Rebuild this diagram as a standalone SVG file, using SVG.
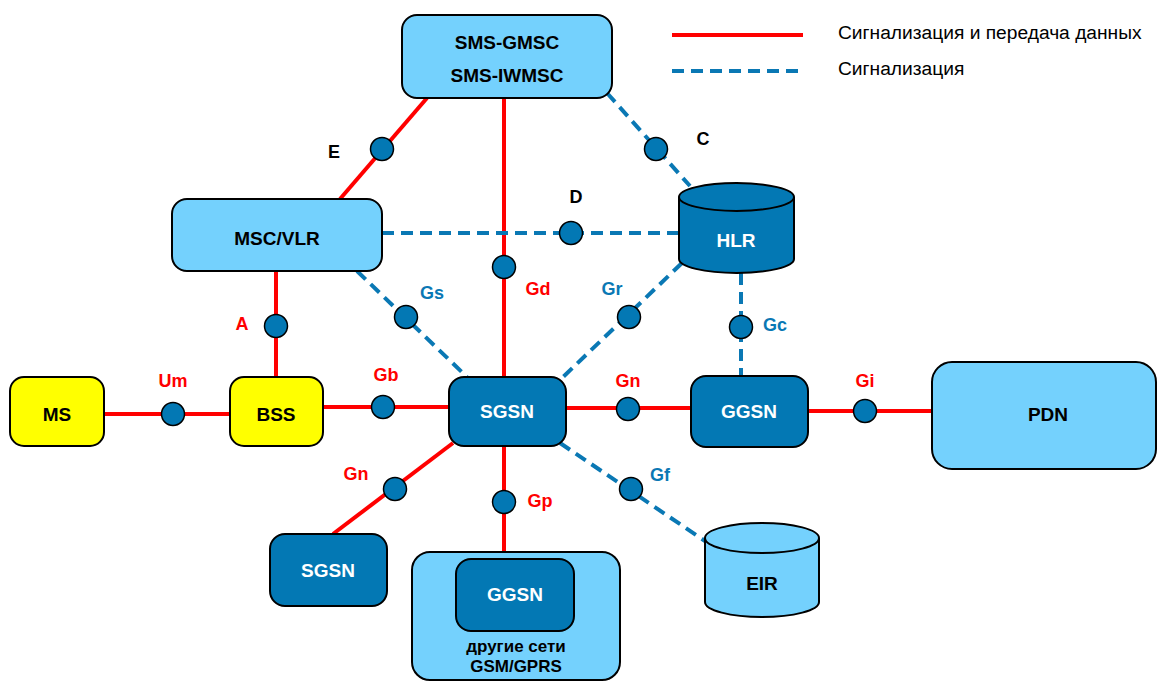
<svg xmlns="http://www.w3.org/2000/svg" width="1157" height="682" viewBox="0 0 1157 682">
<style>
.box{stroke:#000;stroke-width:2}
.lb{fill:#74D1FD}
.db{fill:#0378B4}
.ye{fill:#FFFF00}
.red{stroke:#FF0000;stroke-width:4;fill:none}
.sig{stroke:#0A78B4;stroke-width:4;fill:none;stroke-dasharray:12 7}
.pt{fill:#0378B4;stroke:#000;stroke-width:1.5}
text{font-family:"Liberation Sans",Arial,sans-serif;font-weight:bold;text-anchor:middle}
.nt{font-size:19px;fill:#000}
.wt{font-size:19px;fill:#fff}
.rl{font-size:18px;fill:#FF0000}
.bl{font-size:18px;fill:#0A78B4}
.kl{font-size:18px;fill:#000}
.leg{font-size:19.2px;font-weight:normal;text-anchor:start;fill:#000}
</style>
<rect width="1157" height="682" fill="#fff"/>
<g id="connectors">
<line class="red" x1="427" y1="98" x2="340" y2="199"/>
<line class="red" x1="504" y1="98" x2="504" y2="377"/>
<line class="sig" x1="607" y1="93" x2="690" y2="186"/>
<line class="sig" x1="382" y1="233" x2="679" y2="233"/>
<line class="sig" x1="357" y1="271" x2="467" y2="377"/>
<line class="sig" x1="682" y1="263" x2="562" y2="378"/>
<line class="sig" x1="741" y1="273" x2="741" y2="376"/>
<line class="red" x1="276" y1="271" x2="276" y2="377"/>
<line class="red" x1="104" y1="414" x2="230" y2="414"/>
<line class="red" x1="323" y1="407" x2="449" y2="407"/>
<line class="red" x1="566" y1="408" x2="691" y2="408"/>
<line class="red" x1="808" y1="411" x2="932" y2="411"/>
<line class="red" x1="453" y1="443" x2="333" y2="534"/>
<line class="red" x1="504" y1="446" x2="504" y2="552"/>
<line class="sig" x1="560" y1="443" x2="705" y2="541"/>
<circle class="pt" cx="382" cy="149" r="11.5"/>
<circle class="pt" cx="504" cy="267" r="11.5"/>
<circle class="pt" cx="656" cy="149" r="11.5"/>
<circle class="pt" cx="571" cy="233" r="11.5"/>
<circle class="pt" cx="406" cy="317" r="11.5"/>
<circle class="pt" cx="629" cy="317" r="11.5"/>
<circle class="pt" cx="741" cy="327" r="11.5"/>
<circle class="pt" cx="276" cy="326" r="11.5"/>
<circle class="pt" cx="173" cy="414" r="11.5"/>
<circle class="pt" cx="383" cy="407" r="11.5"/>
<circle class="pt" cx="628" cy="409" r="11.5"/>
<circle class="pt" cx="865" cy="411" r="11.5"/>
<circle class="pt" cx="395" cy="489" r="11.5"/>
<circle class="pt" cx="504" cy="502" r="11.5"/>
<circle class="pt" cx="631" cy="489" r="11.5"/>
<text class="kl" x="334" y="158">E</text>
<text class="kl" x="703" y="145">C</text>
<text class="kl" x="576" y="203">D</text>
<text class="rl" x="538" y="295">Gd</text>
<text class="bl" x="432" y="299">Gs</text>
<text class="bl" x="612" y="295">Gr</text>
<text class="bl" x="775" y="331">Gc</text>
<text class="rl" x="242" y="330">A</text>
<text class="rl" x="173" y="387">Um</text>
<text class="rl" x="386" y="381">Gb</text>
<text class="rl" x="628" y="387">Gn</text>
<text class="rl" x="865" y="387">Gi</text>
<text class="rl" x="356" y="480">Gn</text>
<text class="rl" x="540" y="507">Gp</text>
<text class="bl" x="660" y="481">Gf</text>
</g>
<g id="legend">
<line class="red" x1="672" y1="35" x2="803" y2="35"/>
<line class="sig" x1="672" y1="71" x2="803" y2="71"/>
<text class="leg" x="838" y="39">Сигнализация и передача данных</text>
<text class="leg" x="838" y="75">Сигнализация</text>
</g>
<g id="sms">
<rect class="box lb" x="402" y="15" width="210" height="83" rx="15"/>
<text class="nt" x="507" y="49">SMS-GMSC</text>
<text class="nt" x="507" y="82">SMS-IWMSC</text>
</g>
<g id="mscvlr">
<rect class="box lb" x="172" y="199" width="210" height="72" rx="15"/>
<text class="nt" x="277" y="245">MSC/VLR</text>
</g>
<g id="hlr">
<path class="box db" d="M679,197 A57.5,14 0 0 1 794,197 L794,259 A57.5,14 0 0 1 679,259 Z"/>
<path class="box" fill="none" d="M679,197 A57.5,14 0 0 0 794,197"/>
<text class="wt" x="736" y="247">HLR</text>
</g>
<g id="ms">
<rect class="box ye" x="10" y="377" width="94" height="69" rx="14"/>
<text class="nt" x="57" y="421">MS</text>
</g>
<g id="bss">
<rect class="box ye" x="230" y="377" width="93" height="69" rx="14"/>
<text class="nt" x="276" y="421">BSS</text>
</g>
<g id="sgsn">
<rect class="box db" x="449" y="377" width="117" height="69" rx="15"/>
<text class="wt" x="507" y="418">SGSN</text>
</g>
<g id="ggsn">
<rect class="box db" x="691" y="376" width="117" height="71" rx="15"/>
<text class="wt" x="749" y="418">GGSN</text>
</g>
<g id="pdn">
<rect class="box lb" x="932" y="362" width="224" height="107" rx="20"/>
<text class="nt" x="1048" y="421">PDN</text>
</g>
<g id="sgsn2">
<rect class="box db" x="270" y="534" width="117" height="72" rx="15"/>
<text class="wt" x="328" y="577">SGSN</text>
</g>
<g id="other">
<rect class="box lb" x="412" y="552" width="208" height="128" rx="18"/>
<rect class="box db" x="456" y="559" width="118" height="72" rx="15"/>
<text class="wt" x="515" y="601">GGSN</text>
<text style="font-size:17px" x="516" y="652">другие сети</text>
<text style="font-size:17px" x="516" y="672">GSM/GPRS</text>
</g>
<g id="eir">
<path class="box lb" d="M705,538 A57,15 0 0 1 819,538 L819,602 A57,15 0 0 1 705,602 Z"/>
<path class="box" fill="none" d="M705,538 A57,15 0 0 0 819,538"/>
<text class="nt" x="762" y="590">EIR</text>
</g>
</svg>
